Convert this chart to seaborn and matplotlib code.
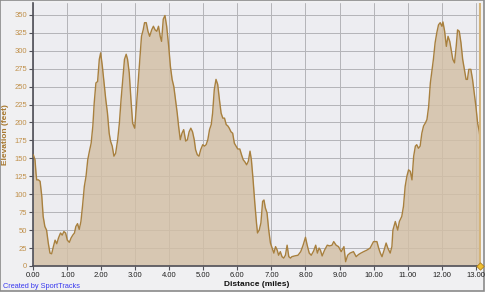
import matplotlib
matplotlib.use("Agg")
import matplotlib.pyplot as plt
import seaborn as sns
import pandas as pd
from matplotlib.patches import Rectangle

distance = [0.00, 0.05, 0.08, 0.10, 0.15, 0.20, 0.25, 0.29, 0.34, 0.39, 0.44, 0.49, 0.54, 0.59, 0.64,
            0.69, 0.74, 0.80, 0.85, 0.90, 0.95, 1.00, 1.06, 1.11, 1.16, 1.21, 1.25, 1.30, 1.35, 1.40,
            1.45, 1.50, 1.55, 1.60, 1.65, 1.70, 1.75, 1.79, 1.84, 1.89, 1.94, 1.98, 2.03, 2.08, 2.13,
            2.18, 2.23, 2.27, 2.32, 2.37, 2.42, 2.48, 2.53, 2.58, 2.63, 2.68, 2.73, 2.77, 2.82, 2.87,
            2.92, 2.98, 3.03, 3.08, 3.13, 3.18, 3.23, 3.27, 3.32, 3.37, 3.42, 3.48, 3.53, 3.58, 3.63,
            3.68, 3.73, 3.77, 3.82, 3.87, 3.92, 3.98, 4.03, 4.08, 4.13, 4.18, 4.23, 4.27, 4.32, 4.37,
            4.42, 4.48, 4.53, 4.58, 4.63, 4.68, 4.73, 4.77, 4.82, 4.87, 4.92, 4.98, 5.03, 5.08, 5.13,
            5.18, 5.23, 5.27, 5.32, 5.37, 5.42, 5.47, 5.52, 5.57, 5.62, 5.67, 5.72, 5.76, 5.81, 5.86,
            5.91, 5.96, 6.01, 6.07, 6.12, 6.17, 6.22, 6.27, 6.32, 6.37, 6.41, 6.46, 6.51, 6.56, 6.59,
            6.64, 6.69, 6.74, 6.78, 6.82, 6.87, 6.92, 6.97, 7.02, 7.07, 7.12, 7.17, 7.21, 7.26, 7.31,
            7.36, 7.41, 7.46, 7.51, 7.56, 7.60, 7.68, 7.78, 7.86, 7.93, 8.00, 8.05, 8.11, 8.17, 8.24,
            8.30, 8.35, 8.40, 8.44, 8.49, 8.56, 8.64, 8.71, 8.78, 8.83, 8.90, 8.97, 9.05, 9.13, 9.18,
            9.24, 9.31, 9.41, 9.49, 9.56, 9.63, 9.71, 9.80, 9.90, 10.00, 10.10, 10.15, 10.20, 10.25, 10.31,
            10.37, 10.42, 10.49, 10.54, 10.57, 10.64, 10.71, 10.76, 10.83, 10.88, 10.93, 10.98, 11.03, 11.08, 11.13,
            11.18, 11.23, 11.27, 11.32, 11.37, 11.42, 11.47, 11.52, 11.57, 11.62, 11.67, 11.72, 11.76, 11.81, 11.86,
            11.91, 11.96, 12.01, 12.04, 12.09, 12.14, 12.19, 12.24, 12.28, 12.33, 12.38, 12.43, 12.47, 12.52, 12.57,
            12.62, 12.67, 12.72, 12.76, 12.80, 12.86, 12.91, 12.96, 13.01, 13.06, 13.11, 13.14]

elevation = [155, 148, 129, 120, 120, 118, 97, 69, 55, 50, 32, 18, 17, 27, 36,
             31, 39, 46, 43, 48, 46, 36, 33, 39, 43, 46, 55, 59, 51, 62,
             85, 111, 125, 148, 160, 171, 195, 227, 255, 257, 288, 297, 278, 255, 232,
             213, 185, 174, 167, 153, 157, 176, 199, 232, 260, 288, 295, 288, 269, 232,
             199, 192, 222, 255, 288, 320, 329, 339, 339, 327, 320, 329, 334, 329, 327,
             334, 320, 313, 344, 349, 334, 306, 278, 260, 250, 232, 213, 195, 176, 185,
             190, 174, 176, 187, 192, 187, 176, 162, 155, 153, 162, 169, 167, 169, 176,
             190, 197, 213, 246, 260, 253, 232, 213, 206, 206, 197, 195, 192, 187, 185,
             171, 167, 163, 163, 155, 148, 145, 141, 146, 160, 148, 120, 88, 60, 46,
             50, 60, 90, 92, 81, 74, 50, 32, 25, 18, 27, 22, 15, 20, 13,
             11, 15, 29, 13, 11, 13, 14, 15, 20, 29, 40, 29, 18, 15, 21,
             29, 18, 25, 22, 14, 22, 29, 28, 29, 34, 29, 27, 20, 27, 6,
             15, 18, 20, 13, 16, 18, 20, 22, 25, 34, 34, 25, 18, 13, 22,
             32, 25, 18, 27, 50, 62, 50, 62, 69, 83, 111, 125, 134, 132, 120,
             153, 167, 169, 164, 167, 185, 195, 199, 204, 222, 255, 274, 288, 311, 325,
             336, 339, 334, 340, 327, 306, 320, 313, 302, 288, 283, 306, 329, 327, 311,
             288, 274, 260, 260, 274, 274, 260, 241, 222, 199, 187, 174]

x_ticks = [0, 1, 2, 3, 4, 5, 6, 7, 8, 9, 10, 11, 12, 13]
x_tick_labels = ["0.00", "1.00", "2.00", "3.00", "4.00", "5.00", "6.00", "7.00",
                 "8.00", "9.00", "10.00", "11.00", "12.00", "13.00"]
y_ticks = [0, 25, 50, 75, 100, 125, 150, 175, 200, 225, 250, 275, 300, 325, 350]

df = pd.DataFrame({"distance": distance, "elevation": elevation})

sns.set_style("white")
plt.rcParams['font.family'] = ['Liberation Sans', 'DejaVu Sans']

W, H = 489, 295
fig = plt.figure(figsize=(W / 100, H / 100), dpi=100)
fig.patch.set_facecolor("white")

# panel background with shadow border
panel = Rectangle((0, 4 / H), 484 / W, 1 - 4 / H, transform=fig.transFigure,
                  facecolor="#F0F0F2", edgecolor="#8A8A8A", linewidth=1.2, zorder=-10)
fig.add_artist(panel)

ax = fig.add_axes([33.3 / W, 1 - 266 / H, (480.7 - 33.3) / W, (266 - 3.3) / H])
ax.set_zorder(1)
ax.set_facecolor("#EDEDF1")

ax.fill_between(df["distance"], df["elevation"], 0, color=(211 / 255, 191 / 255, 165 / 255),
                alpha=0.82, linewidth=0, zorder=2)
sns.lineplot(data=df, x="distance", y="elevation", ax=ax, color="#A8803E", linewidth=1.0, zorder=3)

ax.axvline(13.14, color="#D4B47A", linewidth=1.5, zorder=4)
ax.scatter([13.14], [0], marker="D", s=14, color="#F0C030", edgecolor="#B08020",
           linewidth=0.6, zorder=6, clip_on=False)

ax.set_xlim(0, 13.15)
ax.set_ylim(0, 366)
ax.set_xticks(x_ticks)
ax.set_xticklabels(x_tick_labels)
ax.set_yticks(y_ticks)
ax.set_yticklabels([str(v) for v in y_ticks])

ax.grid(True, color="#B4B4B8", linewidth=0.7, zorder=1)
ax.set_axisbelow(True)

for s in ["top", "right"]:
    ax.spines[s].set_visible(False)
ax.spines["left"].set_color("#505058")
ax.spines["bottom"].set_color("#505058")
ax.spines["left"].set_linewidth(1.2)
ax.spines["bottom"].set_linewidth(1.2)

ax.tick_params(axis="x", direction="out", length=3, width=0.8, color="#505058",
               labelsize=5.5, labelcolor="#202020", pad=1, bottom=True)
ax.tick_params(axis="y", direction="out", length=3, width=0.8, color="#505058",
               labelsize=5.5, labelcolor="#C0904A", pad=1.5, left=True)

ax.set_xlabel("Distance (miles)", fontsize=6, fontweight="bold", color="#101010", labelpad=2)
ax.set_ylabel("Elevation (feet)", fontsize=6, fontweight="bold", color="#A8782E", labelpad=4)

fig.text(3 / W, 1 - 287 / H, "Created by SportTracks", fontsize=5.3, color="#3A3AF0",
         va="center", ha="left")

fig.savefig("out.png", dpi=100, facecolor=fig.get_facecolor())
